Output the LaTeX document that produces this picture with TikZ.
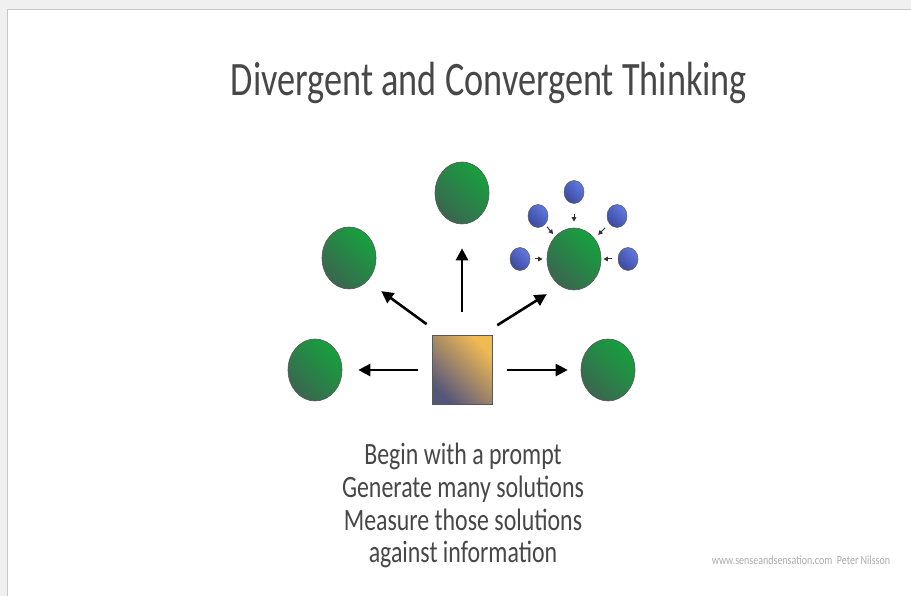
\documentclass[tikz,border=0pt]{standalone}
\usepackage{fontspec}
\setmainfont{Carlito}
\usetikzlibrary{arrows.meta,shapes.geometric}
\definecolor{txtc}{HTML}{474747}
\definecolor{gbright}{HTML}{17A03E}
\definecolor{gdark}{HTML}{3A6650}
\definecolor{sqbright}{HTML}{F2BB52}
\definecolor{sqdark}{HTML}{55557A}
\definecolor{bbright}{HTML}{6078E0}
\definecolor{bdark}{HTML}{3C4A9E}
\tikzset{
  greenball/.style={ellipse, draw=black!65, line width=0.6pt, minimum width=54pt, minimum height=62pt, inner sep=0pt,
    top color=gbright, bottom color=gdark, shading angle=-45},
  blueball/.style={ellipse, draw=black!65, line width=0.5pt, minimum width=20pt, minimum height=23pt, inner sep=0pt,
    top color=bbright, bottom color=bdark, shading angle=-45},
  prompt/.style={rectangle, draw=black!65, line width=0.6pt, minimum width=60pt, minimum height=69pt, inner sep=0pt,
    top color=sqbright, bottom color=sqdark, shading angle=-45},
  bigarrow/.style={line width=2.6pt, -{Triangle[length=12pt,width=12pt]}},
  smallarrow/.style={line width=1pt, black!80, -{Triangle[length=4.5pt,width=4.5pt]}},
  bodytext/.style={text=txtc, font=\fontsize{31}{31}\selectfont, inner sep=0pt, anchor=base},
}
\begin{document}
\begin{tikzpicture}[x=1pt,y=-1pt]
\useasboundingbox (0,0) rectangle (911,596);
\fill[black!6] (0,0) rectangle (911,596);
\fill[white] (7,10) rectangle (911,596);
\draw[black!22, line width=1pt] (7,596) -- (7,10) -- (911,10);

\node[text=txtc, font=\fontsize{48}{48}\selectfont, inner sep=0pt, anchor=base] (title) at (489,96) {\scalebox{0.755}[1]{Divergent and Convergent Thinking}};

\node[prompt] (sq) at (462,370) {};
\node[greenball] (gl) at (315,370) {};
\node[greenball] (gul) at (349,258) {};
\node[greenball] (gt) at (462,193) {};
\node[greenball] (gur) at (574,259) {};
\node[greenball] (gr) at (608,370) {};

\node[blueball] (bt) at (574,192) {};
\node[blueball] (bul) at (538,216) {};
\node[blueball] (bur) at (617,216) {};
\node[blueball] (bl) at (520,259) {};
\node[blueball] (br) at (628,259) {};

\draw[bigarrow, shorten <=14pt, shorten >=16pt] (sq.west) -- (gl.east);
\draw[bigarrow, shorten <=15pt, shorten >=13pt] (sq.east) -- (gr.west);
\draw[bigarrow, shorten <=23pt, shorten >=24pt] (sq.north) -- (gt.south);
\draw[bigarrow] ([shift={(-5,-11)}]sq.north west) -- ([shift={(13,11)}]gul.south east);
\draw[bigarrow] ([shift={(5,-10)}]sq.north east) -- ([shift={(-8,13)}]gur.south west);

\draw[smallarrow, shorten <=10pt, shorten >=6pt] (bt.south) -- (gur.north);
\draw[smallarrow, shorten <=3pt, shorten >=3pt] (bul) -- (gur);
\draw[smallarrow, shorten <=6pt, shorten >=5pt] (bur) -- (gur);
\draw[smallarrow, shorten <=5pt, shorten >=4pt] (bl.east) -- (gur.west);
\draw[smallarrow, shorten <=6pt, shorten >=2pt] (br.west) -- (gur.east);

\node[bodytext] (l1) at (463,464) {\scalebox{0.77}[1]{Begin with a prompt}};
\node[bodytext] (l2) at (463,497) {\scalebox{0.77}[1]{Generate many solutions}};
\node[bodytext] (l3) at (463,530) {\scalebox{0.77}[1]{Measure those solutions}};
\node[bodytext] (l4) at (463,562) {\scalebox{0.77}[1]{against information}};

\node[text=black!32, font=\fontsize{12.5}{12.5}\selectfont, inner sep=0pt, anchor=base] (foot) at (801,564) {\scalebox{0.8}[1]{www.senseandsensation.com\ \ Peter Nilsson}};
\end{tikzpicture}
\end{document}
